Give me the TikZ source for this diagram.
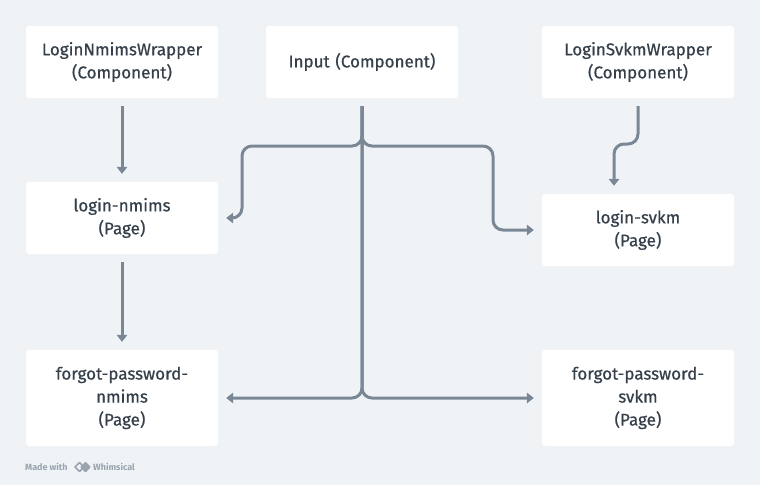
\documentclass[tikz,border=0pt]{standalone}
\usepackage{fontspec}
\setmainfont{Fira Sans}
\newfontfamily\boxfont{Fira Sans}[FakeBold=0.6]
\usetikzlibrary{arrows.meta}
\definecolor{bg}{HTML}{F0F3F6}
\definecolor{wire}{HTML}{7A8896}
\definecolor{ink}{HTML}{36404B}
\definecolor{faint}{HTML}{9AA4AF}

\begin{document}
\begin{tikzpicture}
	[x=1pt,y=-1pt,
	 box/.style={fill=white,rounded corners=3pt,minimum width=192pt,minimum height=72pt,
	             text width=186pt,align=center,inner sep=0pt,text=ink,
	             font=\boxfont\fontsize{17}{23}\selectfont},
	 tallbox/.style={box,minimum height=96pt},
	 arrow/.style={-{Triangle[length=7pt,width=10.5pt]},draw=wire,line width=3pt,
	               rounded corners=10pt,shorten >=8pt,shorten <=8pt},
	 credit/.style={text=faint,inner sep=0pt,font=\fontsize{9}{9}\bfseries\selectfont}]

	\fill [bg,use as bounding box] (0,0) rectangle (760,485);

	\node[box]     (nmimswrap)   at (122,62)  {LoginNmimsWrapper\\(Component)};
	\node[box]     (inputc)      at (362,62)  {Input (Component)};
	\node[box]     (svkmwrap)    at (638,62)  {LoginSvkmWrapper\\(Component)};
	\node[box]     (loginnmims)  at (122,218) {login-nmims\\(Page)};
	\node[box]     (loginsvkm)   at (638,230) {login-svkm\\(Page)};
	\node[tallbox] (forgotnmims) at (122,398) {forgot-password-\\nmims\\(Page)};
	\node[tallbox] (forgotsvkm)  at (638,398) {forgot-password-\\svkm\\(Page)};

	\coordinate (split)   at (362,146);
	\coordinate (leftarm) at (242,146);
	\coordinate (rightarm) at (493,146);
	\coordinate (jog)     at (614,144);

	\draw[arrow] (nmimswrap) -- (loginnmims);
	\draw[arrow] (loginnmims) -- (forgotnmims);
	\draw[arrow] (svkmwrap.south) -- (svkmwrap.south |- jog) -- (jog) -- (jog |- loginsvkm.north);

	\draw[arrow] (inputc.south) -- (split) -- (leftarm) -- (leftarm |- loginnmims.east) -- (loginnmims.east);
	\draw[arrow] (inputc.south) -- (split) -- (rightarm) -- (rightarm |- loginsvkm.west) -- (loginsvkm.west);
	\draw[arrow] (inputc.south) -- (inputc.south |- forgotnmims.east) -- (forgotnmims.east);
	\draw[arrow] (inputc.south) -- (inputc.south |- forgotsvkm.west) -- (forgotsvkm.west);

	% footer
	\node[credit,anchor=west] (madewith) at (25,467) {Made with};
	\draw[faint,line width=1.6pt,line join=round] (75,467) -- (79.5,462.5) -- (84,467) -- (79.5,471.5) -- cycle;
	\fill[faint,rounded corners=1pt] (80,467) -- (85.5,461.5) -- (91,467) -- (85.5,472.5) -- cycle;
	\node[credit,anchor=west] (whimsical) at (93,467) {Whimsical};
\end{tikzpicture}
\end{document}
